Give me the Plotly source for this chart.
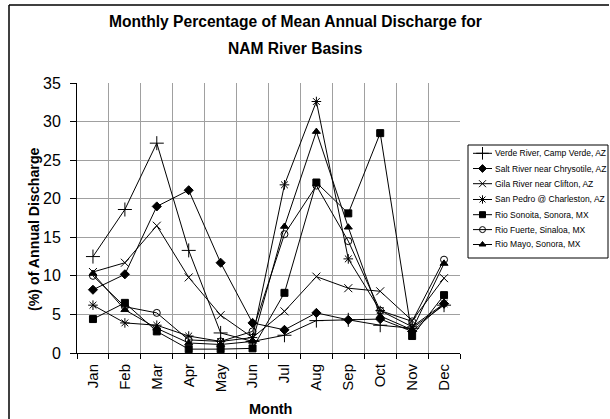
import plotly.graph_objects as go

months = ["Jan", "Feb", "Mar", "Apr", "May", "Jun", "Jul", "Aug", "Sep", "Oct", "Nov", "Dec"]

verde = [12.5, 18.6, 27.2, 13.3, 2.6, 1.5, 2.3, 4.2, 4.3, 3.6, 3.2, 6.2]
salt = [8.2, 10.2, 19.0, 21.1, 11.7, 3.9, 3.0, 5.2, 4.3, 4.4, 2.8, 6.4]
gila = [10.5, 11.7, 16.5, 9.8, 4.9, 2.0, 5.4, 9.9, 8.4, 8.0, 4.2, 9.7]
san_pedro = [6.2, 3.9, 3.6, 2.2, 1.5, 2.0, 21.8, 32.6, 12.2, 5.5, 3.4, 6.4]
sonoita = [4.4, 6.5, 2.8, 0.5, 0.5, 0.6, 7.8, 22.1, 18.1, 28.5, 2.2, 7.5]
fuerte = [10.0, 6.0, 5.2, 1.7, 1.5, 2.8, 15.4, 21.7, 14.5, 5.5, 4.1, 12.1]
mayo = [10.3, 5.6, 3.2, 1.3, 1.1, 1.5, 16.4, 28.7, 16.3, 4.8, 3.0, 11.6]

series = [
    ("Verde River, Camp Verde, AZ", verde, "cross-thin-open", 10),
    ("Salt River near Chrysotile, AZ", salt, "diamond", 7),
    ("Gila River near Clifton, AZ", gila, "x-thin-open", 8),
    ("San Pedro @ Charleston, AZ", san_pedro, "asterisk-open", 8),
    ("Rio Sonoita, Sonora, MX", sonoita, "square", 7),
    ("Rio Fuerte, Sinaloa, MX", fuerte, "circle-open", 7),
    ("Rio Mayo, Sonora, MX", mayo, "triangle-up", 7),
]

title_lines = ["Monthly Percentage of Mean Annual Discharge for", "NAM River Basins"]
x_title = "Month"
y_title = "(%) of Annual Discharge"

W, H = 610, 419
font_family = "Liberation Sans, Arial, sans-serif"

# plot area (pixels)
PL, PR, PT, PB = 77, 460, 83, 353
# legend box (pixels)
LL, LR, LT, LB = 468, 608, 145, 258
legend_rows = [153.3, 168.5, 183.7, 199.5, 214.7, 229.6, 244.5]

fig = go.Figure()
for name, vals, sym, sz in series:
    fig.add_trace(go.Scatter(
        x=months, y=vals, name=name, mode="lines+markers",
        line=dict(color="black", width=1),
        marker=dict(symbol=sym, size=sz, color="black",
                    line=dict(color="black", width=1)),
        xaxis="x", yaxis="y", showlegend=False,
    ))

annotations = []
# title (two lines)
for txt, ty in zip(title_lines, [22, 48]):
    annotations.append(dict(
        text="<b>" + txt + "</b>", x=295 / W, y=1 - ty / H, xref="paper", yref="paper",
        xanchor="center", yanchor="middle", showarrow=False,
        font=dict(size=15.6, family=font_family, color="black"),
    ))
# axis titles
annotations.append(dict(
    text="<b>" + x_title + "</b>", x=270 / W, y=1 - 409 / H, xref="paper", yref="paper",
    xanchor="center", yanchor="middle", showarrow=False,
    font=dict(size=14.5, family=font_family, color="black"),
))
annotations.append(dict(
    text="<b>" + y_title + "</b>", x=34 / W, y=1 - 229 / H, xref="paper", yref="paper",
    xanchor="center", yanchor="middle", showarrow=False, textangle=-90,
    font=dict(size=14.2, family=font_family, color="black"),
))

# hand-built legend (sample line + marker + label)
for (name, vals, sym, sz), ry in zip(series, legend_rows):
    fig.add_trace(go.Scatter(
        x=[LL + 5, LL + 14.5, LL + 24], y=[ry, ry, ry], mode="lines+markers",
        line=dict(color="black", width=1),
        marker=dict(symbol=sym, size=[sz - 1] * 3, color="black", opacity=[0, 1, 0],
                    line=dict(color="black", width=1)),
        xaxis="x3", yaxis="y3", showlegend=False, hoverinfo="skip",
    ))
    annotations.append(dict(
        text=name, x=(LL + 25) / W, y=1 - ry / H, xref="paper", yref="paper",
        xanchor="left", yanchor="middle", showarrow=False,
        font=dict(size=8.5, family=font_family, color="black"),
    ))

fig.update_layout(
    width=W, height=H, autosize=False,
    margin=dict(l=0, r=0, t=0, b=0, pad=0, autoexpand=False),
    paper_bgcolor="white", plot_bgcolor="white",
    font=dict(family=font_family, color="black", size=14),
    xaxis=dict(domain=[PL / W, PR / W], anchor="y", automargin=False,
               type="category", range=[-0.5, 11.5], tickson="boundaries",
               ticks="outside", ticklen=5, tickcolor="black", tickangle=-90,
               ticklabelstandoff=4,
               showgrid=True, gridcolor="#a0a0a0", gridwidth=1,
               showline=True, linecolor="black", linewidth=1,
               tickfont=dict(size=15)),
    yaxis=dict(domain=[1 - PB / H, 1 - PT / H], anchor="x", automargin=False,
               range=[0, 35], dtick=5, ticks="outside", ticklen=6, tickcolor="black",
               ticklabelstandoff=6,
               showgrid=True, gridcolor="#a0a0a0", gridwidth=1, zeroline=False,
               showline=True, linecolor="black", linewidth=1,
               tickfont=dict(size=16)),
    xaxis3=dict(domain=[LL / W, LR / W], anchor="y3", range=[LL, LR], visible=False,
                fixedrange=True, automargin=False),
    yaxis3=dict(domain=[1 - LB / H, 1 - LT / H], anchor="x3", range=[LB, LT], visible=False,
                fixedrange=True, automargin=False),
    annotations=annotations,
    shapes=[
        dict(type="rect", xref="x3 domain", yref="y3 domain", x0=0, x1=1, y0=0, y1=1,
             line=dict(color="black", width=1), fillcolor="rgba(0,0,0,0)"),
        dict(type="line", xref="paper", yref="paper", x0=9 / W, x1=609 / W, y0=1 - 5 / H, y1=1 - 5 / H,
             line=dict(color="black", width=1.5)),
        dict(type="line", xref="paper", yref="paper", x0=9 / W, x1=9 / W, y0=1 - 5 / H, y1=0,
             line=dict(color="black", width=1.5)),
    ],
)

fig.write_html("out.html", config={"displayModeBar": False},
               post_script="document.body.style.margin='0';")
